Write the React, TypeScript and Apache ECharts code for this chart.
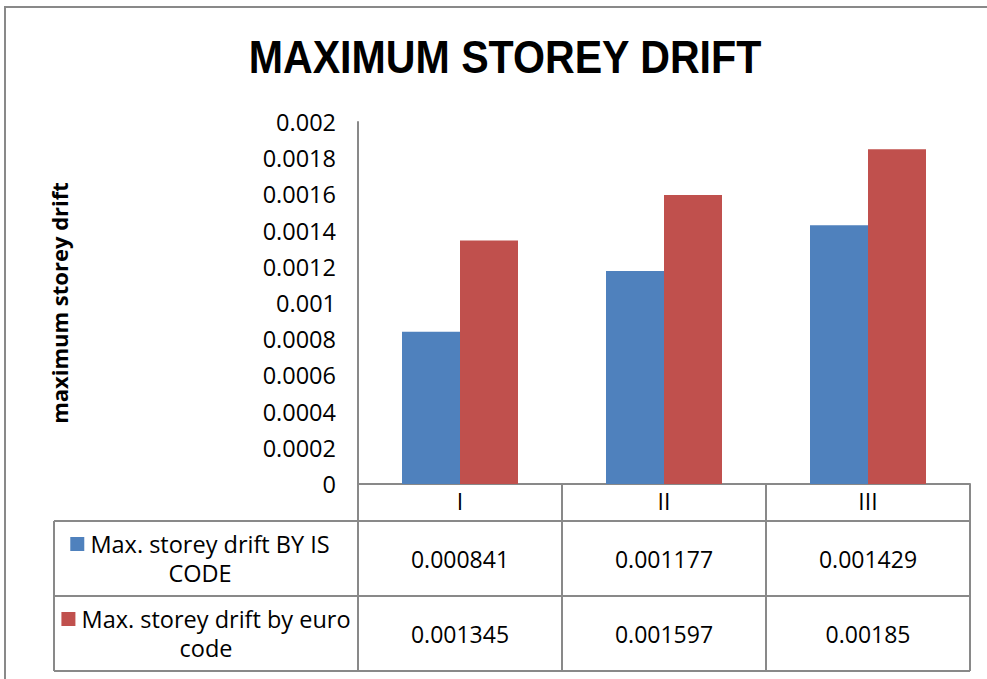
import React, { useEffect, useRef } from "react";
import * as echarts from "echarts";

const chartTitle = "MAXIMUM STOREY DRIFT";
const yAxisName = "maximum storey drift";
const categories = ["I", "II", "III"];
const isCodeValues = [0.000841, 0.001177, 0.001429];
const euroCodeValues = [0.001345, 0.001597, 0.00185];
const seriesNames = ["Max. storey drift BY IS CODE", "Max. storey drift by euro code"];
const legendLines = [
  ["Max. storey drift BY IS", "CODE"],
  ["Max. storey drift by euro", "code"],
];
const seriesColors = ["#4F81BD", "#C0504D"];
const yMin = 0;
const yMax = 0.002;
const yInterval = 0.0002;

const W = 987;
const H = 679;
const FONT = "'Open Sans', sans-serif";
const GRID_LEFT = 358;
const GRID_RIGHT_X = 970;
const AXIS_Y = 484;
const GRID_TOP = 122;
const CAT_ROW_H = 37;
const ROW_H = 75;
const TABLE_LEFT = 54;
const LINE_COLOR = "#898989";

export default function App() {
  const ref = useRef<HTMLDivElement>(null);
  useEffect(() => {
    document.body.style.margin = "0";
    const chart = echarts.init(ref.current!, null, { renderer: "svg" });
    const catW = (GRID_RIGHT_X - GRID_LEFT) / categories.length;
    const tableTop = AXIS_Y + CAT_ROW_H;
    const rows = [isCodeValues, euroCodeValues];
    const graphics: any[] = [];
    // outer chart border
    graphics.push({
      type: "rect",
      shape: { x: 5, y: 7, width: 1100, height: 800 },
      style: { fill: "none", stroke: LINE_COLOR, lineWidth: 2 },
      z: 0,
    });
    graphics.push({
      type: "text",
      x: 505,
      y: 57,
      scaleX: 0.875,
      style: {
        text: chartTitle,
        font: "bold 47px 'Liberation Sans', sans-serif",
        fill: "#000",
        align: "center",
        verticalAlign: "middle",
      },
    });
    // table lines
    const tableBottom = tableTop + ROW_H * rows.length;
    const lines: number[][] = [];
    for (let r = 0; r <= rows.length; r++) {
      const y = tableTop + r * ROW_H;
      lines.push([TABLE_LEFT, y, GRID_RIGHT_X, y]);
    }
    lines.push([TABLE_LEFT, tableTop, TABLE_LEFT, tableBottom]);
    for (let c = 0; c <= categories.length; c++) {
      const x = GRID_LEFT + c * catW;
      lines.push([x, tableTop, x, tableBottom]);
    }
    lines.forEach(([x1, y1, x2, y2]) =>
      graphics.push({
        type: "line",
        shape: { x1, y1, x2, y2 },
        style: { stroke: LINE_COLOR, lineWidth: 2 },
      })
    );
    rows.forEach((vals, r) => {
      const cy = tableTop + r * ROW_H + ROW_H / 2;
      graphics.push({
        type: "text",
        x: (TABLE_LEFT + GRID_LEFT) / 2 - (r === 0 ? 6 : 0),
        y: cy,
        style: {
          text: `{k|}{t| ${legendLines[r][0]}}\n{t|${legendLines[r][1]}}`,
          align: "center",
          verticalAlign: "middle",
          rich: {
            k: { width: 14, height: 14, backgroundColor: seriesColors[r] },
            t: { fontFamily: FONT, fontSize: 23.5, lineHeight: 29, fill: "#000", color: "#000" },
          },
        },
      });
      vals.forEach((v, c) => {
        graphics.push({
          type: "text",
          x: GRID_LEFT + catW * (c + 0.5),
          y: cy,
          style: {
            text: String(v),
            fontFamily: FONT,
            fontSize: 23,
            fill: "#000",
            align: "center",
            verticalAlign: "middle",
          },
        });
      });
    });

    chart.setOption({
      animation: false,
      backgroundColor: "#fff",
      grid: { left: GRID_LEFT, right: W - GRID_RIGHT_X, top: GRID_TOP, bottom: H - AXIS_Y, containLabel: false },
      xAxis: {
        type: "category",
        data: categories,
        boundaryGap: true,
        axisLine: { show: true, lineStyle: { color: LINE_COLOR, width: 2 } },
        axisTick: { show: true, length: CAT_ROW_H, inside: false, lineStyle: { color: LINE_COLOR, width: 2 } },
        axisLabel: { color: "#000", fontFamily: FONT, fontSize: 23, margin: 5 },
        splitLine: { show: false },
      },
      yAxis: {
        type: "value",
        min: yMin,
        max: yMax,
        interval: yInterval,
        name: yAxisName,
        nameLocation: "middle",
        nameRotate: 90,
        nameGap: 288,
        nameTextStyle: { fontFamily: FONT, fontWeight: "bold", fontSize: 22, color: "#000" },
        axisLine: { show: true, lineStyle: { color: LINE_COLOR, width: 2 } },
        axisTick: { show: false },
        splitLine: { show: false },
        axisLabel: {
          color: "#000",
          fontFamily: FONT,
          fontSize: 23.5,
          margin: 22,
          formatter: (v: number) => String(+v.toFixed(6)),
        },
      },
      series: [
        {
          name: seriesNames[0],
          type: "bar",
          data: isCodeValues,
          barWidth: 58,
          barGap: "0%",
          itemStyle: { color: seriesColors[0] },
        },
        {
          name: seriesNames[1],
          type: "bar",
          data: euroCodeValues,
          barWidth: 58,
          barGap: "0%",
          itemStyle: { color: seriesColors[1] },
        },
      ],
      graphic: graphics,
    });
    return () => chart.dispose();
  }, []);
  return <div ref={ref} style={{ width: W, height: H }} />;
}
